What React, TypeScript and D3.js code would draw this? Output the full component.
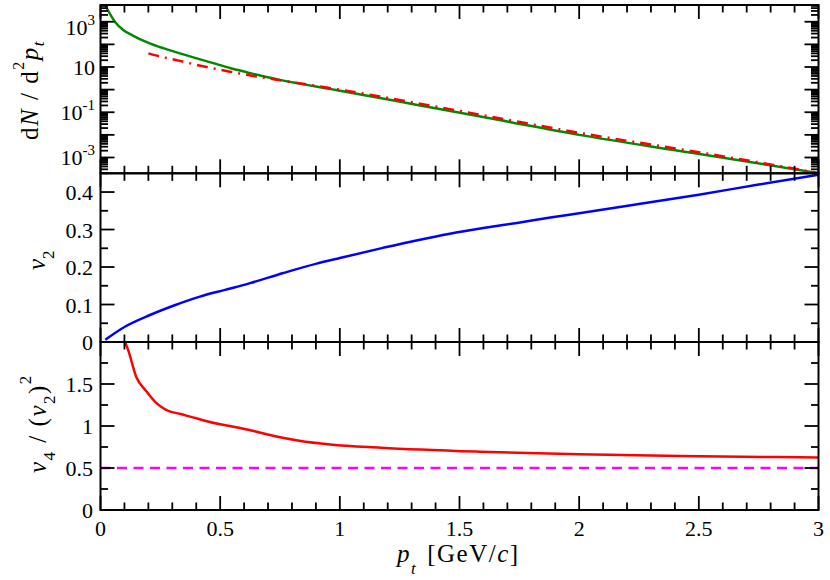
import React from 'react';
import * as d3 from 'd3';

// ---- data ----
const specPt = [0.019, 0.061, 0.095, 0.137, 0.193, 0.262, 0.332, 0.402, 0.471, 0.541, 0.611, 0.68, 0.75, 1.0, 1.335, 1.667, 2.0, 2.47, 3.0];
const specGreen = [5500, 980, 430, 240, 126, 68, 40, 24, 14.8, 9.1, 5.9, 3.9, 2.7, 0.9, 0.2, 0.045, 0.01, 0.00162, 0.000204];

const fitPt = [0.2, 0.262, 0.332, 0.402, 0.471, 0.541, 0.611, 0.68, 0.75, 1.0, 1.5, 2.0, 2.5, 2.8, 3.0];
const fitRed = [40, 27, 18.6, 12.3, 8.7, 6.2, 4.5, 3.4, 2.6, 1.0, 0.115, 0.0123, 0.0017, 0.00049, 0.000204];

const v2Pt = [0.02, 0.1, 0.207, 0.31, 0.415, 0.52, 0.625, 0.764, 0.903, 1.0, 1.18, 1.32, 1.46, 1.6, 1.74, 1.88, 2.0, 2.21, 2.5, 2.75, 3.0];
const v2Val = [0.006, 0.04, 0.072, 0.098, 0.121, 0.139, 0.157, 0.184, 0.209, 0.224, 0.251, 0.271, 0.289, 0.304, 0.3175, 0.332, 0.3435, 0.364, 0.393, 0.42, 0.446];

const ratioPt = [0.1, 0.116, 0.15, 0.19, 0.235, 0.276, 0.33, 0.39, 0.44, 0.5, 0.55, 0.64, 0.735, 0.83, 0.96, 1.17, 1.585, 2.0, 2.42, 2.92, 3.0];
const ratioVal = [2.02, 1.9, 1.58, 1.42, 1.27, 1.19, 1.145, 1.1, 1.06, 1.02, 0.995, 0.94, 0.875, 0.825, 0.78, 0.742, 0.694, 0.663, 0.643, 0.627, 0.625];

const refPt = [0, 3];
const refVal = [0.5, 0.5];

const xTickLabels = ['0', '0.5', '1', '1.5', '2', '2.5', '3'];
const v2TickLabels = ['0', '0.1', '0.2', '0.3', '0.4'];
const ratioTickLabels = ['0', '0.5', '1', '1.5'];
const logLabelExps = [3, 1, -1, -3];

const FONT = "'Liberation Serif', 'Times New Roman', Times, serif";

export default function App() {
  const W = 830, H = 580;
  const X0 = 100.5, X1 = 818.5;
  const T0 = 5, T1 = 173.3, M1 = 342, B1 = 510;

  const x = d3.scaleLinear().domain([0, 3]).range([X0, X1]);
  const yTop = d3.scaleLog().domain([2e-4, 5.5e3]).range([T1, T0]);
  const yMid = d3.scaleLinear().domain([0, 0.45]).range([M1, T1]);
  const yBot = d3.scaleLinear().domain([0, 2]).range([B1, M1]);

  const mk = (ys: any, xs: number[], vs: number[]) =>
    d3.line<number>().x((_, i) => x(xs[i])).y((v) => ys(v)).curve(d3.curveMonotoneX)(vs) || '';

  const panels = [
    { top: T0, bot: T1 },
    { top: T1, bot: M1 },
    { top: M1, bot: B1 },
  ];

  const xMajor = d3.range(0, 3.0001, 0.5);
  const xMinor = d3.range(0, 31).map((i) => i / 10).filter((v) => Math.abs(v * 2 - Math.round(v * 2)) > 1e-6);

  const ticks: React.ReactNode[] = [];
  const L = 14, S = 7.5;
  const tick = (k: string, x1: number, y1: number, x2: number, y2: number) =>
    ticks.push(<line key={k} x1={x1} y1={y1} x2={x2} y2={y2} stroke="#000" strokeWidth={1.8} />);

  panels.forEach((p, pi) => {
    xMajor.forEach((v, i) => {
      tick(`xt${pi}M${i}`, x(v), p.top, x(v), p.top + L);
      tick(`xb${pi}M${i}`, x(v), p.bot, x(v), p.bot - L);
    });
    xMinor.forEach((v, i) => {
      tick(`xt${pi}m${i}`, x(v), p.top, x(v), p.top + S);
      tick(`xb${pi}m${i}`, x(v), p.bot, x(v), p.bot - S);
    });
  });

  const yTicks = (key: string, ys: any, major: number[], minor: number[]) => {
    major.forEach((v, i) => {
      const yy = ys(v);
      tick(`${key}lM${i}`, X0, yy, X0 + L, yy);
      tick(`${key}rM${i}`, X1, yy, X1 - L, yy);
    });
    minor.forEach((v, i) => {
      const yy = ys(v);
      tick(`${key}lm${i}`, X0, yy, X0 + S, yy);
      tick(`${key}rm${i}`, X1, yy, X1 - S, yy);
    });
  };
  const logMajor = d3.range(-3, 4).map((e) => Math.pow(10, e));
  const logMinor: number[] = [];
  for (let e = -4; e <= 3; e++) for (let k = 2; k <= 9; k++) {
    const v = k * Math.pow(10, e);
    if (v >= 2e-4 && v <= 5.5e3) logMinor.push(v);
  }
  yTicks('t', yTop, logMajor, logMinor);
  yTicks('m', yMid, d3.range(0, 0.45, 0.1), d3.range(0.05, 0.45, 0.1));
  yTicks('b', yBot, [0, 0.5, 1, 1.5, 2], [0.25, 0.75, 1.25, 1.75]);

  const clip = (id: string, p: { top: number; bot: number }) => (
    <clipPath id={id}><rect x={X0} y={p.top} width={X1 - X0} height={p.bot - p.top} /></clipPath>
  );

  return (
    <svg width={W} height={H} style={{ position: 'absolute', left: 0, top: 0, background: '#fff', fontFamily: FONT }}>
      <defs>
        {clip('c0', panels[0])}
        {clip('c1', panels[1])}
        {clip('c2', panels[2])}
      </defs>
      <rect x={0} y={0} width={W} height={H} fill="#fff" />

      <g clipPath="url(#c0)" fill="none" strokeWidth={2.5}>
        <path d={mk(yTop, specPt, specGreen)} stroke="#008a00" />
        <path d={mk(yTop, fitPt, fitRed)} stroke="#ff0000" strokeDasharray="11 6 2 6" />
      </g>
      <g clipPath="url(#c1)" fill="none" strokeWidth={2.5}>
        <path d={mk(yMid, v2Pt, v2Val)} stroke="#0000ff" />
      </g>
      <g clipPath="url(#c2)" fill="none" strokeWidth={2.5}>
        <path d={mk(yBot, refPt, refVal)} stroke="#ff00ff" strokeDasharray="10 6.5" />
        <path d={mk(yBot, ratioPt, ratioVal)} stroke="#ff0000" />
      </g>

      {ticks}
      {panels.map((p, i) => (
        <rect key={`f${i}`} x={X0} y={p.top} width={X1 - X0} height={p.bot - p.top} fill="none" stroke="#000" strokeWidth={2} />
      ))}

      {/* x tick labels */}
      <g fontSize={22} textAnchor="middle">
        {xMajor.map((v, i) => (
          <text key={`xl${i}`} x={x(v)} y={536}>{xTickLabels[i]}</text>
        ))}
      </g>
      {/* y tick labels */}
      <g fontSize={22} textAnchor="end">
        {v2TickLabels.map((s, i) => (
          <text key={`ml${i}`} x={93} y={yMid(+s) + 8}>{s}</text>
        ))}
        {ratioTickLabels.map((s, i) => (
          <text key={`bl${i}`} x={93} y={yBot(+s) + 8}>{s}</text>
        ))}
        {logLabelExps.map((e, i) => (
          <text key={`tl${i}`} x={95} y={Math.max(yTop(Math.pow(10, e)) + 8, 35)}>
            10<tspan fontSize={15} dy={-10}>{e < 0 ? `-${-e}` : e === 1 ? '' : `${e}`}</tspan>
          </text>
        ))}
      </g>

      {/* axis titles */}
      <text transform="translate(38,140) rotate(-90)" fontSize={25} letterSpacing={1.5}>
        d<tspan fontStyle="italic">N</tspan> / d<tspan fontSize={16} dy={-14}>2</tspan>
        <tspan fontStyle="italic" dy={14}>p</tspan>
        <tspan fontStyle="italic" fontSize={17} dy={6}>t</tspan>
      </text>
      <text transform="translate(45,270) rotate(-90)" fontSize={25}>
        <tspan fontStyle="italic">v</tspan>
        <tspan fontSize={17} dy={9}>2</tspan>
      </text>
      <text transform="translate(46,473) rotate(-90)" fontSize={25} letterSpacing={1.5}>
        <tspan fontStyle="italic">v</tspan>
        <tspan fontSize={17} dy={9}>4</tspan>
        <tspan dy={-9}> / (</tspan>
        <tspan fontStyle="italic">v</tspan>
        <tspan fontSize={17} dy={9}>2</tspan>
        <tspan dy={-9}>)</tspan>
        <tspan fontSize={17} dy={-15}>2</tspan>
      </text>
      <text x={397} y={562} fontSize={25} letterSpacing={1.5}>
        <tspan fontStyle="italic">p</tspan>
        <tspan fontStyle="italic" fontSize={17} dy={12}>t</tspan>
        <tspan dy={-12} dx={10}>[GeV/</tspan>
        <tspan fontStyle="italic">c</tspan>
        <tspan>]</tspan>
      </text>
    </svg>
  );
}
